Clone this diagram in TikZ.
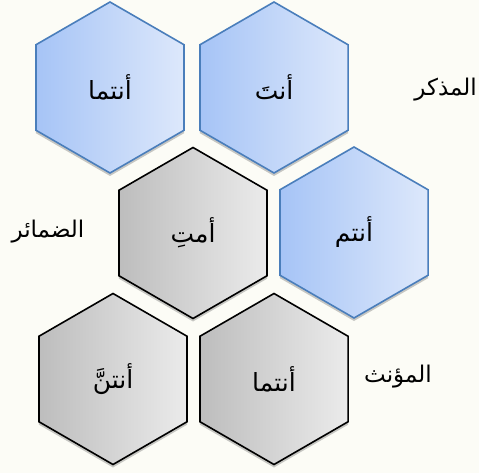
\documentclass[tikz,border=0pt]{standalone}
\usepackage{fontspec}
\newfontfamily\arabicfont[Script=Arabic]{DejaVu Sans}
\TeXXeTstate=1
\usetikzlibrary{shapes.geometric,shadows}
\definecolor{bgc}{HTML}{FCFCF6}
\definecolor{bluel}{HTML}{A6C4F6}
\definecolor{bluer}{HTML}{DDE8FB}
\definecolor{bluee}{HTML}{4A7EBB}
\definecolor{grayl}{HTML}{BDBDBD}
\definecolor{grayr}{HTML}{EBEBEB}
\tikzset{
  hexbase/.style={regular polygon, regular polygon sides=6, shape border rotate=30,
    minimum size=171pt, inner sep=0pt, line width=1.6pt,
    drop shadow={shadow xshift=0pt, shadow yshift=-3pt, opacity=0.3, fill=black!70},
    font=\arabicfont\fontsize{25}{30}\selectfont},
  hexblue/.style={hexbase, draw=bluee, left color=bluel, right color=bluer},
  hexgray/.style={hexbase, draw=black, left color=grayl, right color=grayr},
  lbl/.style={font=\arabicfont\fontsize{23}{28}\selectfont, inner sep=0pt}
}
\begin{document}
\begin{tikzpicture}[x=1pt,y=-1pt]
\fill[bgc] (0,0) rectangle (479,473);
\useasboundingbox (0,0) rectangle (479,473);
\node[hexblue] (h1) at (110,87.5) {\beginR أنتما\endR};
\node[hexblue] (h2) at (274,87.5) {\beginR أنتَ\endR};
\node[hexgray] (h4) at (193,233) {\beginR أمتِ\endR};
\node[hexblue] (h3) at (354,232.5) {\beginR أنتم\endR};
\node[hexgray] (h5) at (113,379) {\beginR أنتنَّ\endR};
\node[hexgray] (h6) at (274,379) {\beginR أنتما\endR};
\node[lbl,anchor=east] (m) at (477,90) {\beginR المذكر\endR};
\node[lbl] (d) at (48,232) {\beginR الضمائر\endR};
\node[lbl] (f) at (398,377) {\beginR المؤنث\endR};
\end{tikzpicture}
\end{document}
